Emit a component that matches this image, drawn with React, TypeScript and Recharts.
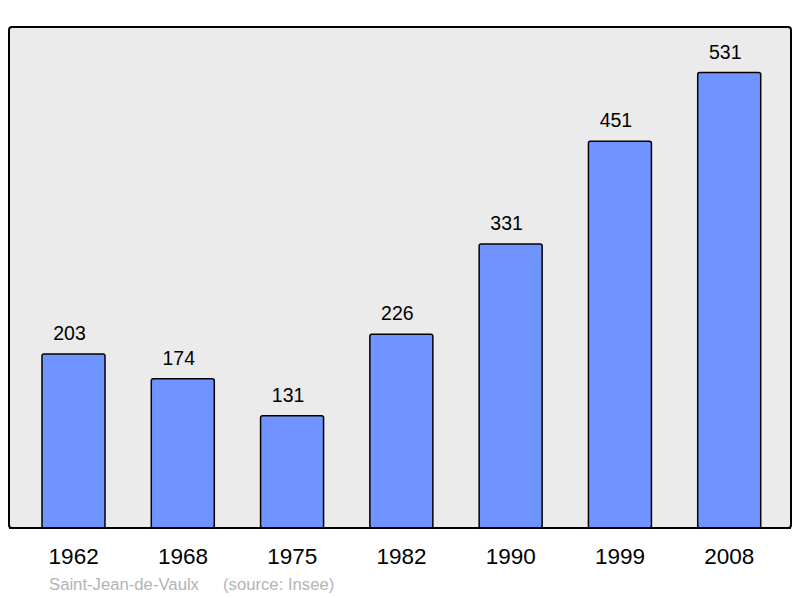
import React from "react";
import { Bar, BarChart, Customized, LabelList, XAxis, YAxis } from "recharts";

const years: string[] = ["1962", "1968", "1975", "1982", "1990", "1999", "2008"];
const population: number[] = [203, 174, 131, 226, 331, 451, 531];
const placeName = "Saint-Jean-de-Vaulx";
const sourceNote = "(source: Insee)";

const data = years.map((year, i) => ({ year, pop: population[i] }));
const yMax = Math.max(...population) * 1.1;

const W = 800;
const H = 598;
const M = { top: 27, right: 9, bottom: 40, left: 9 };
const AXIS_H = 30;
const FONT = "'Liberation Sans', Arial, sans-serif";

const Frame = () => (
  <rect
    x={M.left}
    y={M.top}
    width={W - M.left - M.right}
    height={H - M.top - M.bottom - AXIS_H}
    rx={3}
    ry={3}
    fill="#ebebeb"
    stroke="#000"
    strokeWidth={2}
  />
);

const Footer = () => (
  <text x={49} y={590} fontFamily={FONT} fontSize={16.7} fill="#b3b3b3">
    <tspan>{placeName}</tspan>
    <tspan x={223}>{sourceNote}</tspan>
  </text>
);

export default function App() {
  return (
    <div style={{ position: "absolute", left: 0, top: 0 }}>
      <BarChart width={W} height={H} data={data} margin={M}>
        <Customized component={Frame} />
        <XAxis
          dataKey="year"
          height={AXIS_H}
          padding={{ left: 10, right: 7 }}
          tickLine={false}
          tickSize={0}
          tickMargin={20}
          axisLine={{ stroke: "#000", strokeWidth: 2 }}
          tick={{ fill: "#000", fontSize: 22.5, fontFamily: FONT }}
          interval={0}
        />
        <YAxis hide domain={[0, yMax]} />
        <Bar
          dataKey="pop"
          barSize={63}
          fill="#7094ff"
          stroke="#000"
          strokeWidth={1.5}
          radius={2}
          isAnimationActive={false}
        >
          <LabelList
            dataKey="pop"
            position="top"
            offset={14}
            dx={-4}
            fill="#000"
            fontSize={19.5}
            fontFamily={FONT}
          />
        </Bar>
        <Customized component={Footer} />
      </BarChart>
    </div>
  );
}
